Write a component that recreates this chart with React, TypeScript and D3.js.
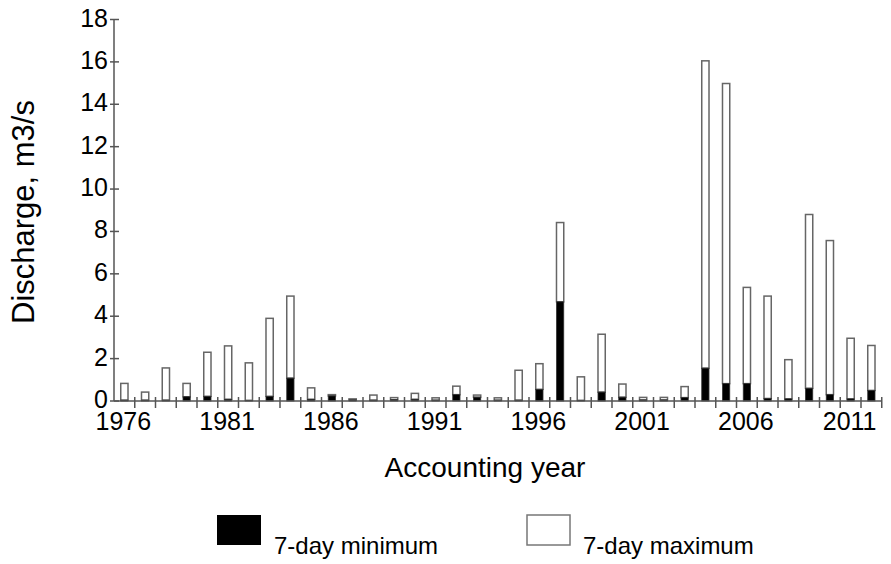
import React from 'react';
import * as d3 from 'd3';

// accounting years 1976..2012
const years = [
  1976, 1977, 1978, 1979, 1980, 1981, 1982, 1983, 1984, 1985, 1986, 1987,
  1988, 1989, 1990, 1991, 1992, 1993, 1994, 1995, 1996, 1997, 1998, 1999,
  2000, 2001, 2002, 2003, 2004, 2005, 2006, 2007, 2008, 2009, 2010, 2011, 2012,
];

// 7-day minimum discharge, m3/s
const minValues = [
  0.04, 0.04, 0.04, 0.2, 0.22, 0.08, 0.03, 0.22, 1.08, 0.08, 0.24, 0.05,
  0.04, 0.06, 0.08, 0.04, 0.3, 0.18, 0.04, 0.04, 0.55, 4.68, 0.03, 0.42,
  0.18, 0.05, 0.05, 0.16, 1.55, 0.82, 0.82, 0.12, 0.1, 0.6, 0.3, 0.1, 0.5,
];

// 7-day maximum discharge, m3/s
const maxValues = [
  0.83, 0.42, 1.56, 0.83, 2.3, 2.6, 1.8, 3.9, 4.95, 0.62, 0.3, 0.1,
  0.28, 0.16, 0.36, 0.15, 0.7, 0.28, 0.15, 1.45, 1.76, 8.42, 1.14, 3.15,
  0.8, 0.17, 0.17, 0.68, 16.05, 14.98, 5.36, 4.95, 1.95, 8.8, 7.57, 2.96, 2.62,
];

const yTicks = [0, 2, 4, 6, 8, 10, 12, 14, 16, 18];
const labelYears = [1976, 1981, 1986, 1991, 1996, 2001, 2006, 2011];

const font = "'Liberation Sans', Arial, sans-serif";

export default function App() {
  const width = 891;
  const height = 564;
  const left = 114;
  const right = 114 + 37 * 20.75;
  const y0 = 401;
  const yTop = 19.5;

  const x = d3.scaleBand<number>()
    .domain(years)
    .range([left, right])
    .paddingInner(0.65)
    .paddingOuter(0.325);
  const step = x.step();

  const y = d3.scaleLinear().domain([0, 18]).range([y0, yTop]);

  const axisColor = '#555';

  return (
    <svg width={width} height={height} style={{ position: 'absolute', left: 0, top: 0, background: '#fff' }}>
      {/* bars: white for the maximum, black for the minimum */}
      {years.map((yr, i) => {
        const bx = x(yr)!;
        const bw = x.bandwidth();
        const mn = minValues[i];
        const mx = maxValues[i];
        return (
          <g key={yr}>
            <rect x={bx} y={y(mx)} width={bw} height={y(mn) - y(mx)}
              fill="#fff" stroke="#666" strokeWidth={1.5} />
            <rect x={bx} y={y(mn)} width={bw} height={y0 - y(mn)}
              fill="#000" stroke="#333" strokeWidth={0.8} />
          </g>
        );
      })}

      {/* y axis */}
      <line x1={left} x2={left} y1={yTop} y2={y0} stroke={axisColor} strokeWidth={1.5} />
      {yTicks.map(t => (
        <g key={t}>
          <line x1={left - 4} x2={left + 5} y1={y(t)} y2={y(t)} stroke={axisColor} strokeWidth={1.5} />
          <text x={left - 6} y={y(t) - 2} dy="0.36em" textAnchor="end"
            fontFamily={font} fontSize={25} fill="#000">{t}</text>
        </g>
      ))}

      {/* x axis */}
      <line x1={left} x2={right} y1={y0} y2={y0} stroke={axisColor} strokeWidth={1.5} />
      {years.map((yr, i) => (
        <line key={yr} x1={left + (i + 1) * step} x2={left + (i + 1) * step}
          y1={y0 - 4} y2={y0 + 7} stroke={axisColor} strokeWidth={1.5} />
      ))}
      {labelYears.map(yr => (
        <text key={yr} x={x(yr)! + x.bandwidth() / 2 - 1} y={430} textAnchor="middle"
          fontFamily={font} fontSize={25} fill="#000">{yr}</text>
      ))}

      {/* axis titles */}
      <text x={485} y={477} textAnchor="middle" fontFamily={font} fontSize={28} fill="#000">
        Accounting year
      </text>
      <text transform={`translate(34, 212) rotate(-90)`} textAnchor="middle"
        fontFamily={font} fontSize={31} fill="#000">
        Discharge, m3/s
      </text>

      {/* legend */}
      <rect x={217} y={515} width={44} height={30} fill="#000" />
      <text x={274} y={554} fontFamily={font} fontSize={24} fill="#000">7-day minimum</text>
      <rect x={527} y={515} width={43} height={30} fill="#fff" stroke="#777" strokeWidth={1.5} />
      <text x={583} y={554} fontFamily={font} fontSize={24} fill="#000">7-day maximum</text>
    </svg>
  );
}
